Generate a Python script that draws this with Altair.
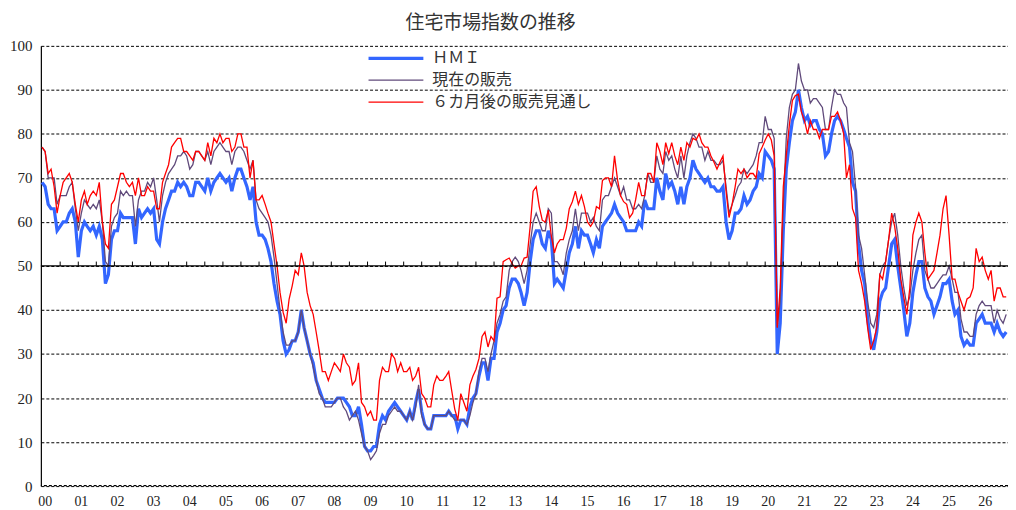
import altair as alt
import pandas as pd

# ---- data (monthly, first point = Dec 1999) ----
START = "1999-12-01"
SERIES = ["ＨＭＩ", "現在の販売", "６カ月後の販売見通し"]
COLORS = ["#3366FF", "#604A7B", "#FF0000"]
WIDTHS = [3.2, 1.3, 1.3]
YEARS = list(range(2000, 2027))

hmi = [
    69,
    68, 64, 63, 63, 58, 59, 60, 60, 62, 63, 60, 52,   # 2000
    58, 60, 59, 58, 59, 57, 59, 56, 46, 48, 56, 58,   # 2001
    58, 62, 61, 61, 61, 61, 55, 63, 61, 62, 63, 62,   # 2002
    63, 56, 55, 60, 63, 65, 67, 67, 69, 68, 69, 68,   # 2003
    66, 66, 69, 69, 68, 67, 70, 67, 69, 70, 71, 70,   # 2004
    69, 70, 67, 70, 72, 72, 70, 68, 65, 68, 60, 57,   # 2005
    57, 56, 54, 51, 46, 42, 39, 33, 30, 31, 33, 33,   # 2006
    35, 40, 36, 33, 30, 28, 24, 22, 20, 19, 19, 19,   # 2007
    19, 20, 20, 20, 19, 18, 16, 16, 18, 14, 9, 8,     # 2008
    8, 9, 9, 14, 16, 15, 17, 18, 19, 18, 17, 16,      # 2009
    15, 17, 15, 19, 22, 17, 14, 13, 13, 16, 16, 16,   # 2010
    16, 16, 17, 16, 16, 13, 15, 15, 14, 18, 20, 21,   # 2011
    25, 28, 28, 24, 29, 29, 35, 37, 40, 41, 45, 47,   # 2012
    47, 46, 44, 41, 44, 51, 56, 58, 58, 55, 54, 58,   # 2013
    56, 46, 47, 46, 45, 49, 53, 55, 59, 54, 58, 57,   # 2014
    57, 55, 53, 56, 54, 59, 60, 61, 62, 64, 62, 61,   # 2015
    60, 58, 58, 58, 58, 60, 59, 65, 63, 63, 63, 70,   # 2016
    67, 65, 71, 68, 69, 67, 64, 68, 64, 68, 70, 74,   # 2017
    72, 71, 70, 69, 70, 68, 68, 67, 67, 68, 60, 56,   # 2018
    58, 62, 62, 63, 66, 64, 65, 67, 68, 71, 70, 76,   # 2019
    75, 74, 72, 30, 37, 58, 72, 78, 83, 85, 90, 86,   # 2020
    83, 84, 82, 83, 83, 81, 80, 75, 76, 80, 83, 84,   # 2021
    83, 81, 79, 77, 69, 67, 55, 49, 46, 38, 33, 31,   # 2022
    35, 42, 44, 45, 50, 55, 56, 50, 45, 40, 34, 37,   # 2023
    44, 48, 51, 51, 45, 43, 42, 39, 41, 43, 46, 46,   # 2024
    47, 42, 39, 40, 34, 32, 33, 32, 32, 37, 38, 39,   # 2025
    37, 37, 37, 35, 37, 35, 34, 35,                   # 2026
]

current = [
    77,
    76, 70, 70, 70, 64, 66, 66, 66, 68, 69, 63, 58,   # 2000
    62, 65, 64, 63, 64, 63, 65, 60, 51, 50, 59, 61,   # 2001
    62, 67, 66, 67, 66, 66, 59, 65, 67, 67, 69, 68,   # 2002
    70, 65, 60, 66, 69, 71, 72, 73, 75, 75, 76, 75,   # 2003
    72, 73, 76, 76, 75, 74, 76, 73, 76, 77, 78, 77,   # 2004
    76, 76, 73, 76, 77, 77, 76, 74, 72, 74, 65, 63,   # 2005
    62, 61, 60, 57, 52, 46, 40, 35, 32, 32, 33, 33,   # 2006
    35, 40, 36, 33, 30, 27, 24, 21, 20, 18, 18, 18,   # 2007
    19, 20, 20, 18, 17, 15, 16, 17, 15, 12, 9, 8,     # 2008
    6, 7, 8, 12, 14, 14, 16, 17, 18, 17, 17, 16,      # 2009
    15, 17, 15, 18, 23, 16, 14, 13, 13, 16, 16, 16,   # 2010
    16, 16, 17, 16, 15, 15, 15, 15, 14, 16, 19, 21,   # 2011
    26, 29, 29, 26, 30, 33, 37, 39, 42, 43, 49, 51,   # 2012
    52, 51, 49, 46, 49, 55, 60, 62, 60, 58, 58, 63,   # 2013
    62, 51, 51, 50, 48, 53, 56, 58, 63, 58, 62, 62,   # 2014
    62, 60, 61, 59, 58, 65, 66, 66, 68, 70, 68, 66,   # 2015
    68, 65, 65, 63, 63, 64, 63, 66, 71, 69, 69, 75,   # 2016
    72, 71, 76, 74, 75, 72, 70, 75, 70, 75, 78, 80,   # 2017
    79, 77, 77, 74, 76, 74, 74, 73, 73, 74, 68, 62,   # 2018
    64, 66, 68, 69, 72, 71, 72, 73, 75, 78, 78, 84,   # 2019
    81, 81, 79, 36, 42, 64, 79, 86, 89, 90, 96, 92,   # 2020
    90, 90, 87, 88, 88, 87, 86, 81, 81, 86, 90, 89,   # 2021
    89, 87, 86, 78, 76, 68, 57, 54, 48, 42, 37, 36,   # 2022
    39, 48, 50, 51, 56, 60, 62, 57, 50, 45, 41, 43,   # 2023
    49, 53, 56, 57, 49, 47, 45, 45, 46, 47, 48, 48,   # 2024
    50, 47, 44, 44, 38, 35, 35, 34, 34, 39, 41, 42,   # 2025
    41, 41, 41, 37, 40, 38, 37, 39,                   # 2026
]

future = [
    77,
    76, 71, 72, 68, 62, 66, 69, 70, 71, 69, 64, 60,   # 2000
    65, 67, 64, 66, 67, 66, 69, 60, 55, 54, 64, 65,   # 2001
    68, 71, 71, 69, 68, 69, 66, 70, 66, 66, 68, 67,   # 2002
    67, 63, 63, 69, 71, 73, 77, 78, 79, 79, 76, 76,   # 2003
    75, 74, 76, 76, 75, 74, 78, 75, 79, 78, 80, 78,   # 2004
    79, 79, 76, 77, 80, 80, 77, 77, 70, 74, 65, 65,   # 2005
    66, 64, 62, 60, 55, 50, 44, 39.5, 37, 42.5, 45.5, 49,  # 2006
    48, 53, 50, 44, 41, 39, 35, 30.7, 26, 26, 24, 26,  # 2007
    28, 27, 26, 30, 28, 27, 23, 24, 28, 19, 18, 16,   # 2008
    17, 15, 15, 24, 27, 26, 26, 30, 29, 26, 28, 26,   # 2009
    26, 27, 24, 25, 27, 21, 20, 18, 18, 23, 25, 24,   # 2010
    24, 25, 26, 21.6, 17.5, 15, 21, 19, 17, 23, 25, 26.5,  # 2011
    29, 34, 35, 31.6, 34, 33, 42.7, 43, 51, 51.4, 51.8, 50.5,  # 2012
    49.5, 50, 50, 51.8, 52, 59, 67, 68, 63.5, 60.4, 60, 62.7,  # 2013
    56.7, 53, 55, 56, 56, 58.6, 63, 64.6, 67, 64, 66, 63.5,  # 2014
    60, 59, 60, 63.5, 63, 69.4, 70, 70, 68, 75, 69.5, 66,  # 2015
    64.6, 64, 61, 62, 65, 69, 66, 66, 71, 71, 69, 78,  # 2016
    76, 73, 78, 75.5, 78, 75, 73, 77, 74, 78, 77, 79,  # 2017
    78.6, 80, 78, 77, 77, 75, 73.6, 72, 73.6, 75, 67, 61,  # 2018
    64, 68, 72, 71, 72, 70, 71, 71, 70, 75.5, 77, 78.6,  # 2019
    80, 78.6, 75, 36, 45, 68, 75, 82, 87.6, 88.7, 89, 85,  # 2020
    83, 80, 83, 81, 81, 79, 81, 81, 81, 84, 84, 85,   # 2021
    83, 80, 70, 73, 63, 61, 49, 46, 42, 36, 31, 33,   # 2022
    36, 48, 47, 51, 56, 62, 59, 54, 47, 43, 39, 45,   # 2023
    57, 60, 62, 60, 53, 47, 48, 49, 53, 57, 63, 66,   # 2024
    57, 47, 47, 44, 42, 40, 42.5, 43, 45, 54, 51, 52,  # 2025
    49, 47, 49, 42, 45, 45, 43, 43,                   # 2026
]

dates = pd.date_range(START, periods=len(hmi), freq="MS")
frames = []
for name, vals in zip(SERIES, [hmi, current, future]):
    frames.append(pd.DataFrame({"date": dates, "series": name, "value": vals}))
df = pd.concat(frames, ignore_index=True)

tick_df = pd.DataFrame({"date": pd.date_range("2000-06-01", "2026-06-01", freq="6MS")})
year_df = pd.DataFrame({
    "date": pd.to_datetime([f"{y}-01-01" for y in YEARS]),
    "label": [f"{y % 100:02d}" for y in YEARS],
})
one_df = pd.DataFrame({"k": [0]})

LABEL_FONT = "Liberation Serif"
JP_FONT = "Noto Sans CJK JP"

x_scale = alt.Scale(domain=[alt.DateTime(year=1999, month=11, date=19),
                            alt.DateTime(year=2026, month=8, date=19)])
x_axis = alt.Axis(labels=False, ticks=False, domain=False, grid=False, title=None)
y_scale = alt.Scale(domain=[0, 100], nice=False)
y_axis = alt.Axis(values=list(range(0, 101, 10)), grid=True, gridColor="#000",
                  gridDash=[3, 2], gridWidth=1, gridOpacity=1, ticks=False,
                  domain=True, domainColor="#000", domainWidth=1.2,
                  labelFont=LABEL_FONT, labelFontSize=15, labelColor="#222",
                  labelPadding=9, title=None)

# legend symbol: a long horizontal stroke drawn by a custom path (unit square -1..1)
leg = alt.Legend(title=None, orient="none", legendX=347, legendY=3,
                 symbolType="M-3.67,0L3.67,0", symbolSize=225, labelFont=JP_FONT,
                 labelFontSize=16, labelColor="#333", labelOffset=27,
                 rowPadding=5, padding=0, labelLimit=400)

base = alt.Chart(df).mark_line().encode(
    x=alt.X("date:T", scale=x_scale, axis=x_axis),
    y=alt.Y("value:Q", scale=y_scale, axis=y_axis),
    color=alt.Color("series:N", scale=alt.Scale(domain=SERIES, range=COLORS), legend=leg),
    strokeWidth=alt.StrokeWidth("series:N",
                                scale=alt.Scale(type="ordinal", domain=SERIES, range=WIDTHS),
                                legend=leg),
)
line_layers = [base.transform_filter(alt.datum.series == s) for s in SERIES]

zero = alt.Chart(one_df).mark_rule(color="#000", strokeWidth=1.3, strokeDash=[3, 2]).encode(
    y=alt.datum(0.1))
mid = alt.Chart(one_df).mark_rule(color="#000", strokeWidth=1.2).encode(y=alt.datum(50))
ticks = alt.Chart(tick_df).mark_rule(color="#000", strokeWidth=1).encode(
    x=alt.X("date:T"), y=alt.datum(50), y2=alt.datum(51)
)
year_labels = alt.Chart(year_df).mark_text(
    baseline="top", align="center", dy=9, font=LABEL_FONT, fontSize=14, color="#222"
).encode(x=alt.X("date:T"), y=alt.datum(0), text="label:N")

chart = alt.layer(*line_layers, zero, mid, ticks, year_labels).properties(
    width=971,
    height=442,
    title=alt.TitleParams(text="住宅市場指数の推移", font=JP_FONT, fontSize=19,
                          fontWeight="normal", color="#333", anchor="middle",
                          frame="group", dx=-34, offset=6),
    autosize=alt.AutoSizeParams(type="none"),
    padding={"left": 33, "top": 37, "right": 0, "bottom": 23},
).configure_view(stroke=None)

chart.save("out.html", embed_options={"renderer": "svg", "actions": False})
